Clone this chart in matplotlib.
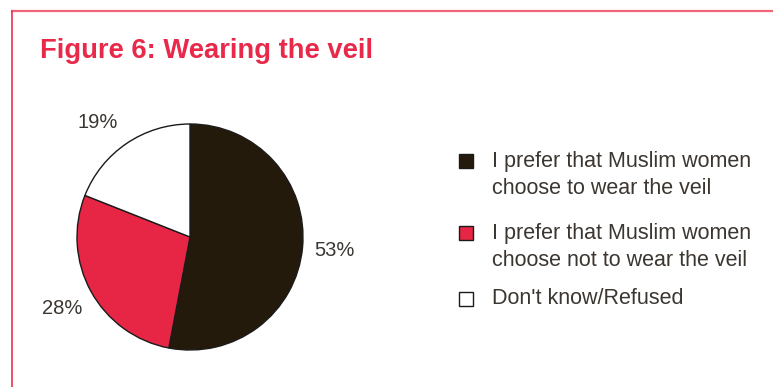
import matplotlib
matplotlib.use("Agg")
import matplotlib.pyplot as plt
from matplotlib.patches import Rectangle
from matplotlib.lines import Line2D

categories = ["I prefer that Muslim women\nchoose to wear the veil",
              "I prefer that Muslim women\nchoose not to wear the veil",
              "Don't know/Refused"]
values = [53, 28, 19]
labels = ["53%", "28%", "19%"]
colors = ["#241a0b", "#e72646", "#ffffff"]

W, H = 773, 387
fig = plt.figure(figsize=(W / 100, H / 100), dpi=100)
plt.rcParams['font.family'] = ['Liberation Sans', 'DejaVu Sans']

# frame lines
fig.add_artist(Line2D([12 / W, 1], [1 - 11 / H, 1 - 11 / H], color="#ee6678", lw=1.6, transform=fig.transFigure))
fig.add_artist(Line2D([12 / W, 12 / W], [0, 1 - 11 / H], color="#e8334f", lw=1.2, transform=fig.transFigure))

fig.text(40 / W, 1 - 51 / H, "Figure 6: Wearing the veil", color="#e8294a", fontsize=19.7,
         fontweight="bold", va="center", ha="left")

cx, cy, r = 190, 237, 113
ax = fig.add_axes([(cx - r) / W, 1 - (cy + r) / H, 2 * r / W, 2 * r / H])
wedges, _ = ax.pie(values, colors=colors, startangle=90, counterclock=False,
                   wedgeprops=dict(edgecolor="#1a1a1a", linewidth=1.0))
ax.set_aspect("equal")
ax.set_xlim(-1, 1)
ax.set_ylim(-1, 1)

label_pos = [(334, 250), (62, 308), (98, 122)]
for lab, (x, y) in zip(labels, label_pos):
    fig.text(x / W, 1 - y / H, lab, color="#3c3631", fontsize=14.5, ha="center", va="center")

leg_y = [(161, 175), (233, 247), (299, 299)]
for cat, col, (ys, yt) in zip(categories, colors, leg_y):
    fig.add_artist(Rectangle((459 / W, 1 - (ys + 7) / H), 14 / W, 14 / H, facecolor=col,
                             edgecolor="#1a1a1a", lw=1.0, transform=fig.transFigure))
    fig.text(492 / W, 1 - yt / H, cat, color="#3c3631", fontsize=15.5, ha="left", va="center",
             linespacing=1.33)

fig.savefig("out.png", dpi=100)
